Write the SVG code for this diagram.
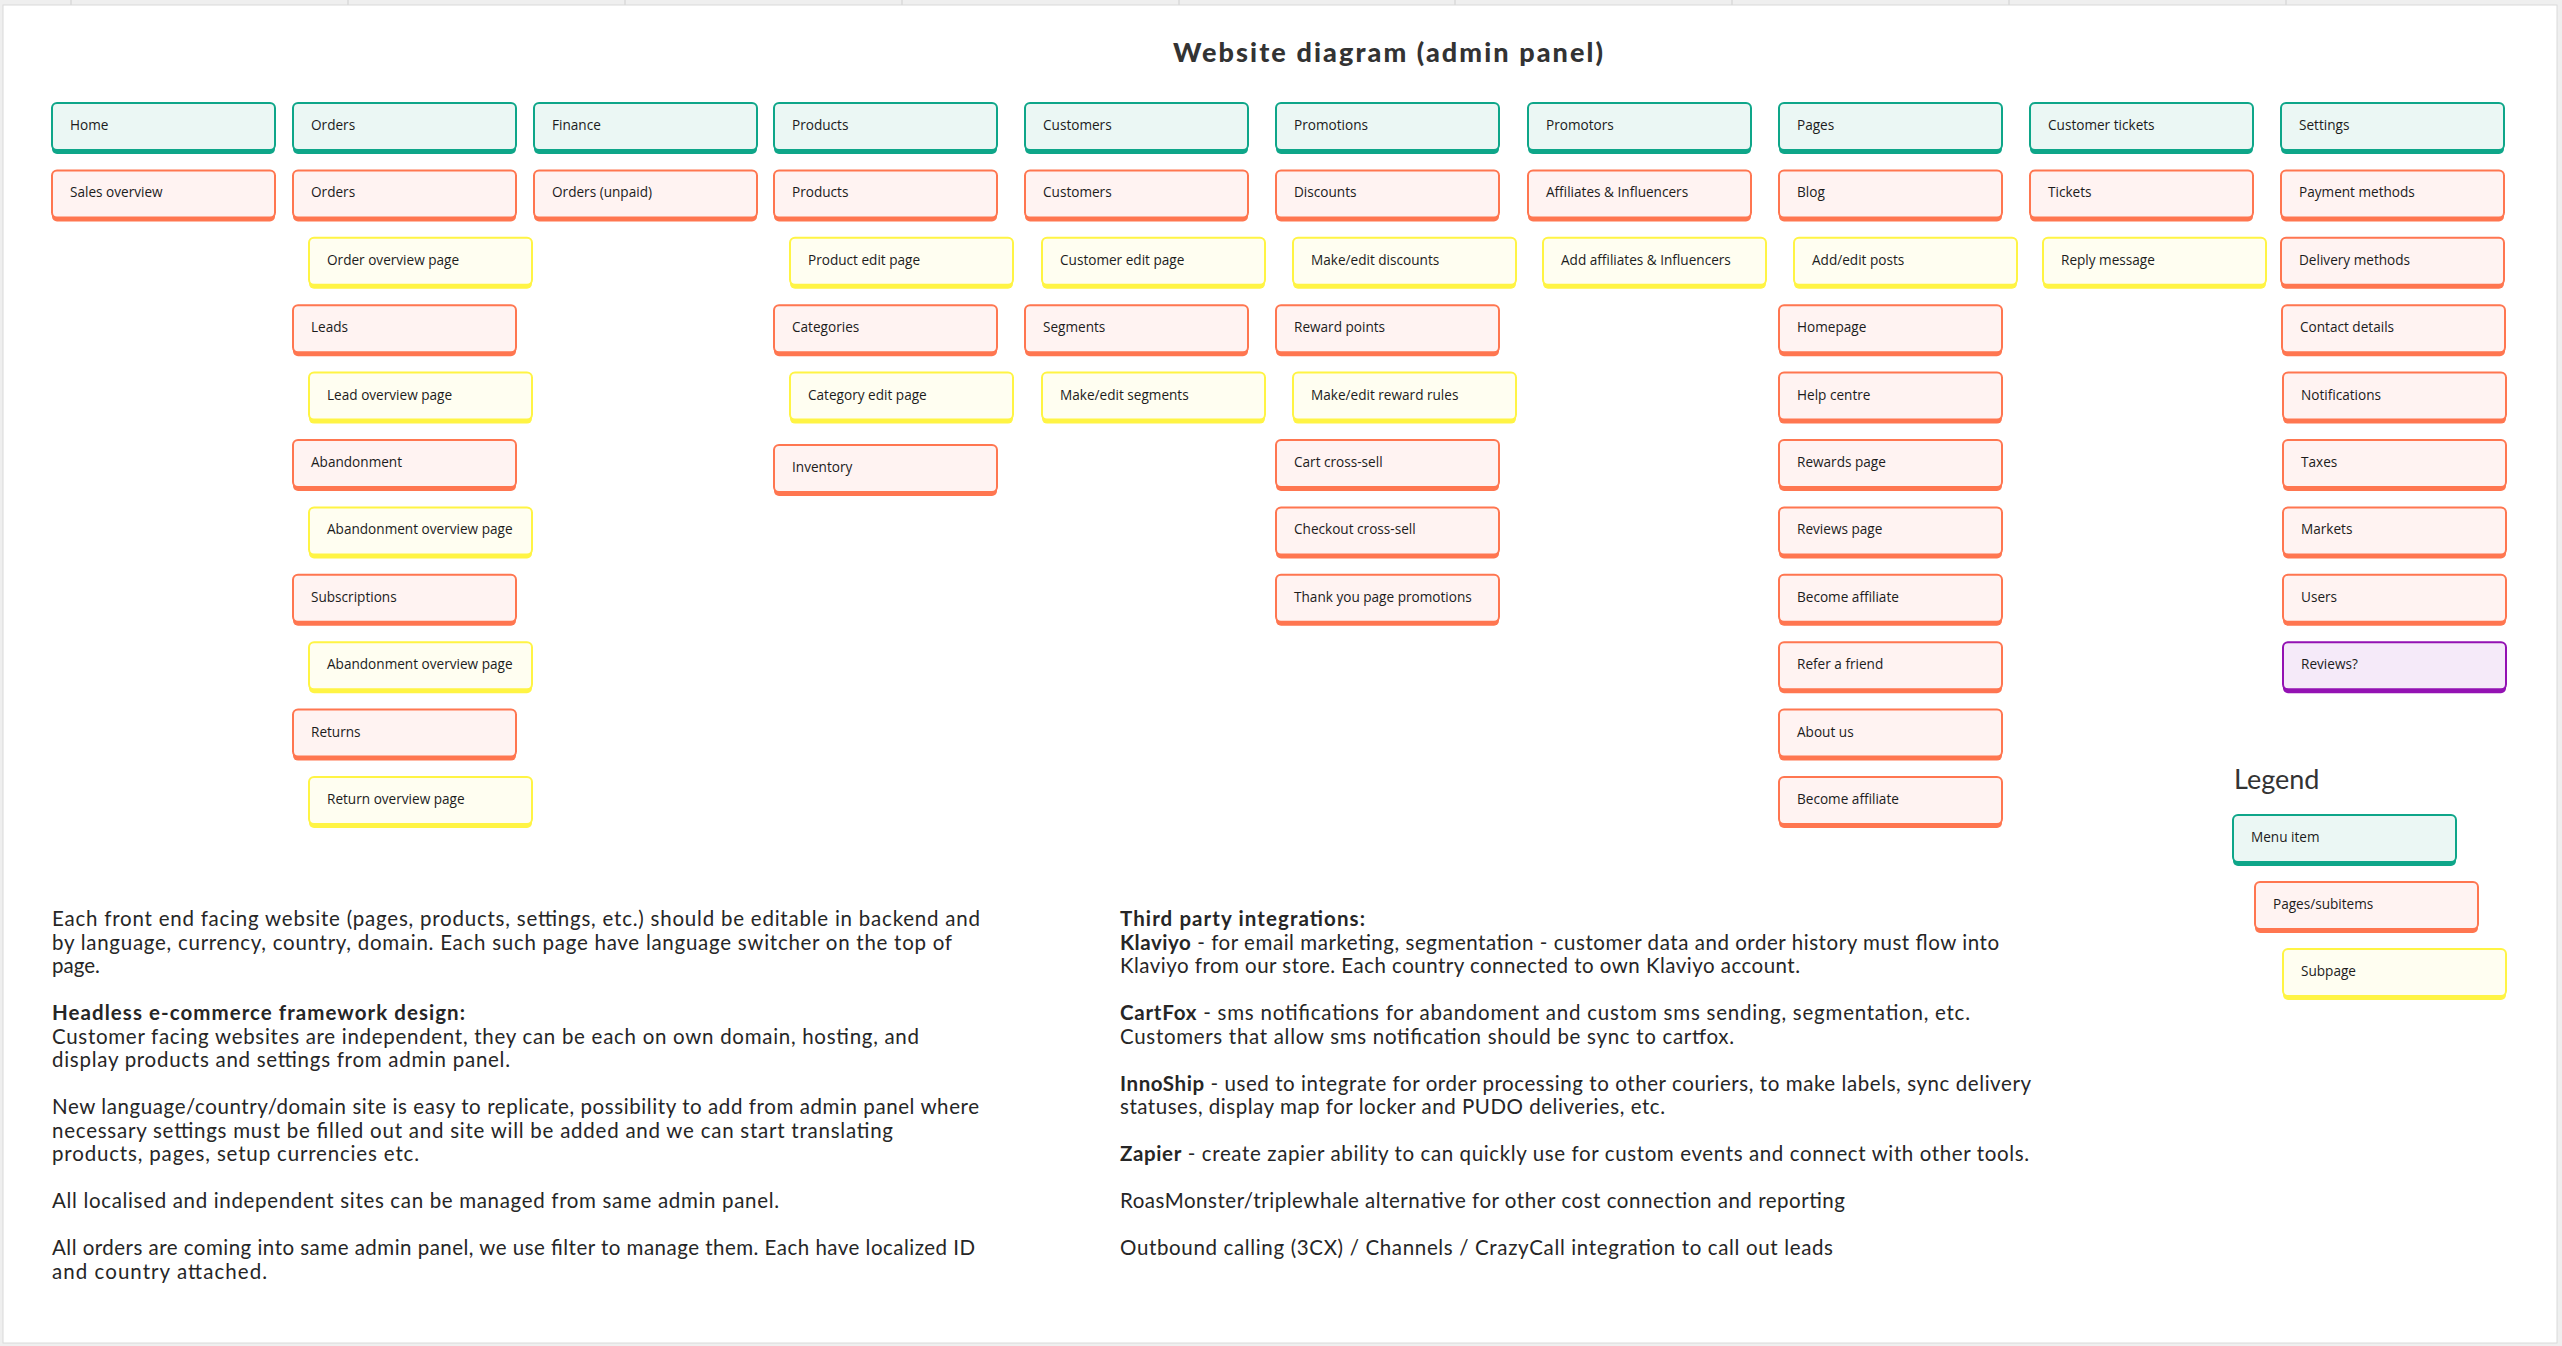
<svg xmlns="http://www.w3.org/2000/svg" width="2562" height="1346" viewBox="0 0 2562 1346">
<style>
.bg{fill:#efefef}
.board{fill:#ffffff;stroke:#dadada;stroke-width:1}
.grid{stroke:#cfcfcf;stroke-width:1}
.t{--s:#0ea689;--f:#ebf7f4}
.c{--s:#ff7650;--f:#fff3f2}
.y{--s:#fff444;--f:#fffef1}
.p{--s:#9312b3;--f:#f5eaf9}
.lbl{font-family:"Open Sans","Noto Sans",sans-serif;font-size:13.6px;fill:#1c1c1c}
.para{font-family:Lato,"Open Sans",sans-serif;font-size:20.5px;fill:#262626}
.b{font-weight:700}
.title{font-family:Lato,"Open Sans",sans-serif;font-weight:900;font-size:27px;fill:#333333}
.legend{font-family:Lato,"Open Sans",sans-serif;font-size:27px;fill:#333333}
</style>
<defs>
<g id="box"><rect x="0" y="4" width="223" height="47" rx="5" style="fill:var(--s)"/><rect x="0" y="0" width="223" height="47" rx="5" style="fill:var(--f);stroke:var(--s);stroke-width:2"/></g>
</defs>
<rect class="bg" x="0" y="0" width="2562" height="1346"/>
<g id="frame-grid">
<line class="grid" x1="71" y1="0" x2="71" y2="5"/><line class="grid" x1="348" y1="0" x2="348" y2="5"/><line class="grid" x1="625" y1="0" x2="625" y2="5"/><line class="grid" x1="902" y1="0" x2="902" y2="5"/><line class="grid" x1="1179" y1="0" x2="1179" y2="5"/><line class="grid" x1="1455" y1="0" x2="1455" y2="5"/><line class="grid" x1="1732" y1="0" x2="1732" y2="5"/><line class="grid" x1="2009" y1="0" x2="2009" y2="5"/><line class="grid" x1="2286" y1="0" x2="2286" y2="5"/>
</g>
<rect class="board" x="3" y="5" width="2554" height="1338"/>

<text class="title" x="1173" y="62" textLength="430" lengthAdjust="spacing">Website diagram (admin panel)</text>

<g id="connectors"></g>

<g id="col-home">
<g id="n-home" class="node t" transform="translate(52,103)"><use href="#box"/><text class="lbl" x="18" y="27">Home</text></g>
<g id="n-sales-overview" class="node c" transform="translate(52,170.4)"><use href="#box"/><text class="lbl" x="18" y="27">Sales overview</text></g>
</g>

<g id="col-orders">
<g id="n-orders-menu" class="node t" transform="translate(293,103)"><use href="#box"/><text class="lbl" x="18" y="27">Orders</text></g>
<g id="n-orders" class="node c" transform="translate(293,170.4)"><use href="#box"/><text class="lbl" x="18" y="27">Orders</text></g>
<g id="n-order-overview" class="node y" transform="translate(309,237.8)"><use href="#box"/><text class="lbl" x="18" y="27">Order overview page</text></g>
<g id="n-leads" class="node c" transform="translate(293,305.2)"><use href="#box"/><text class="lbl" x="18" y="27">Leads</text></g>
<g id="n-lead-overview" class="node y" transform="translate(309,372.6)"><use href="#box"/><text class="lbl" x="18" y="27">Lead overview page</text></g>
<g id="n-abandonment" class="node c" transform="translate(293,440)"><use href="#box"/><text class="lbl" x="18" y="27">Abandonment</text></g>
<g id="n-abandonment-overview" class="node y" transform="translate(309,507.4)"><use href="#box"/><text class="lbl" x="18" y="27">Abandonment overview page</text></g>
<g id="n-subscriptions" class="node c" transform="translate(293,574.8)"><use href="#box"/><text class="lbl" x="18" y="27">Subscriptions</text></g>
<g id="n-abandonment-overview-2" class="node y" transform="translate(309,642.2)"><use href="#box"/><text class="lbl" x="18" y="27">Abandonment overview page</text></g>
<g id="n-returns" class="node c" transform="translate(293,709.6)"><use href="#box"/><text class="lbl" x="18" y="27">Returns</text></g>
<g id="n-return-overview" class="node y" transform="translate(309,777)"><use href="#box"/><text class="lbl" x="18" y="27">Return overview page</text></g>
</g>

<g id="col-finance">
<g id="n-finance" class="node t" transform="translate(534,103)"><use href="#box"/><text class="lbl" x="18" y="27">Finance</text></g>
<g id="n-orders-unpaid" class="node c" transform="translate(534,170.4)"><use href="#box"/><text class="lbl" x="18" y="27">Orders (unpaid)</text></g>
</g>

<g id="col-products">
<g id="n-products-menu" class="node t" transform="translate(774,103)"><use href="#box"/><text class="lbl" x="18" y="27">Products</text></g>
<g id="n-products" class="node c" transform="translate(774,170.4)"><use href="#box"/><text class="lbl" x="18" y="27">Products</text></g>
<g id="n-product-edit" class="node y" transform="translate(790,237.8)"><use href="#box"/><text class="lbl" x="18" y="27">Product edit page</text></g>
<g id="n-categories" class="node c" transform="translate(774,305.2)"><use href="#box"/><text class="lbl" x="18" y="27">Categories</text></g>
<g id="n-category-edit" class="node y" transform="translate(790,372.6)"><use href="#box"/><text class="lbl" x="18" y="27">Category edit page</text></g>
<g id="n-inventory" class="node c" transform="translate(774,445)"><use href="#box"/><text class="lbl" x="18" y="27">Inventory</text></g>
</g>

<g id="col-customers">
<g id="n-customers-menu" class="node t" transform="translate(1025,103)"><use href="#box"/><text class="lbl" x="18" y="27">Customers</text></g>
<g id="n-customers" class="node c" transform="translate(1025,170.4)"><use href="#box"/><text class="lbl" x="18" y="27">Customers</text></g>
<g id="n-customer-edit" class="node y" transform="translate(1042,237.8)"><use href="#box"/><text class="lbl" x="18" y="27">Customer edit page</text></g>
<g id="n-segments" class="node c" transform="translate(1025,305.2)"><use href="#box"/><text class="lbl" x="18" y="27">Segments</text></g>
<g id="n-make-edit-segments" class="node y" transform="translate(1042,372.6)"><use href="#box"/><text class="lbl" x="18" y="27">Make/edit segments</text></g>
</g>

<g id="col-promotions">
<g id="n-promotions" class="node t" transform="translate(1276,103)"><use href="#box"/><text class="lbl" x="18" y="27">Promotions</text></g>
<g id="n-discounts" class="node c" transform="translate(1276,170.4)"><use href="#box"/><text class="lbl" x="18" y="27">Discounts</text></g>
<g id="n-make-edit-discounts" class="node y" transform="translate(1293,237.8)"><use href="#box"/><text class="lbl" x="18" y="27">Make/edit discounts</text></g>
<g id="n-reward-points" class="node c" transform="translate(1276,305.2)"><use href="#box"/><text class="lbl" x="18" y="27">Reward points</text></g>
<g id="n-make-edit-reward" class="node y" transform="translate(1293,372.6)"><use href="#box"/><text class="lbl" x="18" y="27">Make/edit reward rules</text></g>
<g id="n-cart-cross-sell" class="node c" transform="translate(1276,440)"><use href="#box"/><text class="lbl" x="18" y="27">Cart cross-sell</text></g>
<g id="n-checkout-cross-sell" class="node c" transform="translate(1276,507.4)"><use href="#box"/><text class="lbl" x="18" y="27">Checkout cross-sell</text></g>
<g id="n-thank-you" class="node c" transform="translate(1276,574.8)"><use href="#box"/><text class="lbl" x="18" y="27">Thank you page promotions</text></g>
</g>

<g id="col-promotors">
<g id="n-promotors" class="node t" transform="translate(1528,103)"><use href="#box"/><text class="lbl" x="18" y="27">Promotors</text></g>
<g id="n-affiliates" class="node c" transform="translate(1528,170.4)"><use href="#box"/><text class="lbl" x="18" y="27">Affiliates &amp; Influencers</text></g>
<g id="n-add-affiliates" class="node y" transform="translate(1543,237.8)"><use href="#box"/><text class="lbl" x="18" y="27">Add affiliates &amp; Influencers</text></g>
</g>

<g id="col-pages">
<g id="n-pages" class="node t" transform="translate(1779,103)"><use href="#box"/><text class="lbl" x="18" y="27">Pages</text></g>
<g id="n-blog" class="node c" transform="translate(1779,170.4)"><use href="#box"/><text class="lbl" x="18" y="27">Blog</text></g>
<g id="n-add-edit-posts" class="node y" transform="translate(1794,237.8)"><use href="#box"/><text class="lbl" x="18" y="27">Add/edit posts</text></g>
<g id="n-homepage" class="node c" transform="translate(1779,305.2)"><use href="#box"/><text class="lbl" x="18" y="27">Homepage</text></g>
<g id="n-help-centre" class="node c" transform="translate(1779,372.6)"><use href="#box"/><text class="lbl" x="18" y="27">Help centre</text></g>
<g id="n-rewards-page" class="node c" transform="translate(1779,440)"><use href="#box"/><text class="lbl" x="18" y="27">Rewards page</text></g>
<g id="n-reviews-page" class="node c" transform="translate(1779,507.4)"><use href="#box"/><text class="lbl" x="18" y="27">Reviews page</text></g>
<g id="n-become-affiliate" class="node c" transform="translate(1779,574.8)"><use href="#box"/><text class="lbl" x="18" y="27">Become affiliate</text></g>
<g id="n-refer-friend" class="node c" transform="translate(1779,642.2)"><use href="#box"/><text class="lbl" x="18" y="27">Refer a friend</text></g>
<g id="n-about-us" class="node c" transform="translate(1779,709.6)"><use href="#box"/><text class="lbl" x="18" y="27">About us</text></g>
<g id="n-become-affiliate-2" class="node c" transform="translate(1779,777)"><use href="#box"/><text class="lbl" x="18" y="27">Become affiliate</text></g>
</g>

<g id="col-tickets">
<g id="n-customer-tickets" class="node t" transform="translate(2030,103)"><use href="#box"/><text class="lbl" x="18" y="27">Customer tickets</text></g>
<g id="n-tickets" class="node c" transform="translate(2030,170.4)"><use href="#box"/><text class="lbl" x="18" y="27">Tickets</text></g>
<g id="n-reply-message" class="node y" transform="translate(2043,237.8)"><use href="#box"/><text class="lbl" x="18" y="27">Reply message</text></g>
</g>

<g id="col-settings">
<g id="n-settings" class="node t" transform="translate(2281,103)"><use href="#box"/><text class="lbl" x="18" y="27">Settings</text></g>
<g id="n-payment-methods" class="node c" transform="translate(2281,170.4)"><use href="#box"/><text class="lbl" x="18" y="27">Payment methods</text></g>
<g id="n-delivery-methods" class="node c" transform="translate(2281,237.8)"><use href="#box"/><text class="lbl" x="18" y="27">Delivery methods</text></g>
<g id="n-contact-details" class="node c" transform="translate(2282,305.2)"><use href="#box"/><text class="lbl" x="18" y="27">Contact details</text></g>
<g id="n-notifications" class="node c" transform="translate(2283,372.6)"><use href="#box"/><text class="lbl" x="18" y="27">Notifications</text></g>
<g id="n-taxes" class="node c" transform="translate(2283,440)"><use href="#box"/><text class="lbl" x="18" y="27">Taxes</text></g>
<g id="n-markets" class="node c" transform="translate(2283,507.4)"><use href="#box"/><text class="lbl" x="18" y="27">Markets</text></g>
<g id="n-users" class="node c" transform="translate(2283,574.8)"><use href="#box"/><text class="lbl" x="18" y="27">Users</text></g>
<g id="n-reviews" class="node p" transform="translate(2283,642.2)"><use href="#box"/><text class="lbl" x="18" y="27">Reviews?</text></g>
</g>

<g id="legend">
<text class="legend" x="2234" y="789">Legend</text>
<g id="lg-menu-item" class="node t" transform="translate(2233,815)"><use href="#box"/><text class="lbl" x="18" y="27">Menu item</text></g>
<g id="lg-pages-subitems" class="node c" transform="translate(2255,882)"><use href="#box"/><text class="lbl" x="18" y="27">Pages/subitems</text></g>
<g id="lg-subpage" class="node y" transform="translate(2283,949)"><use href="#box"/><text class="lbl" x="18" y="27">Subpage</text></g>
</g>

<g id="notes-left" class="para">
<text x="52" y="926" textLength="928" lengthAdjust="spacing">Each front end facing website (pages, products, settings, etc.) should be editable in backend and</text>
<text x="52" y="949.5" textLength="900" lengthAdjust="spacing">by language, currency, country, domain. Each such page have language switcher on the top of</text>
<text x="52" y="973">page.</text>
<text class="b" x="52" y="1020" textLength="413" lengthAdjust="spacing">Headless e-commerce framework design:</text>
<text x="52" y="1043.5" textLength="867" lengthAdjust="spacing">Customer facing websites are independent, they can be each on own domain, hosting, and</text>
<text x="52" y="1067" textLength="458" lengthAdjust="spacing">display products and settings from admin panel.</text>
<text x="52" y="1114" textLength="927" lengthAdjust="spacing">New language/country/domain site is easy to replicate, possibility to add from admin panel where</text>
<text x="52" y="1137.5" textLength="841" lengthAdjust="spacing">necessary settings must be filled out and site will be added and we can start translating</text>
<text x="52" y="1161" textLength="367" lengthAdjust="spacing">products, pages, setup currencies etc.</text>
<text x="52" y="1208" textLength="727" lengthAdjust="spacing">All localised and independent sites can be managed from same admin panel.</text>
<text x="52" y="1255" textLength="923" lengthAdjust="spacing">All orders are coming into same admin panel, we use filter to manage them. Each have localized ID</text>
<text x="52" y="1278.5" textLength="215" lengthAdjust="spacing">and country attached.</text>
</g>

<g id="notes-right" class="para">
<text class="b" x="1120" y="926" textLength="245" lengthAdjust="spacing">Third party integrations:</text>
<text x="1120" y="949.5" textLength="879" lengthAdjust="spacing"><tspan class="b">Klaviyo</tspan> - for email marketing, segmentation - customer data and order history must flow into</text>
<text x="1120" y="973" textLength="680" lengthAdjust="spacing">Klaviyo from our store. Each country connected to own Klaviyo account.</text>
<text x="1120" y="1020" textLength="850" lengthAdjust="spacing"><tspan class="b">CartFox</tspan> - sms notifications for abandoment and custom sms sending, segmentation, etc.</text>
<text x="1120" y="1043.5" textLength="614" lengthAdjust="spacing">Customers that allow sms notification should be sync to cartfox.</text>
<text x="1120" y="1090.5" textLength="911" lengthAdjust="spacing"><tspan class="b">InnoShip</tspan> - used to integrate for order processing to other couriers, to make labels, sync delivery</text>
<text x="1120" y="1114" textLength="545" lengthAdjust="spacing">statuses, display map for locker and PUDO deliveries, etc.</text>
<text x="1120" y="1161" textLength="909" lengthAdjust="spacing"><tspan class="b">Zapier</tspan> - create zapier ability to can quickly use for custom events and connect with other tools.</text>
<text x="1120" y="1208" textLength="725" lengthAdjust="spacing">RoasMonster/triplewhale alternative for other cost connection and reporting</text>
<text x="1120" y="1255" textLength="713" lengthAdjust="spacing">Outbound calling (3CX) / Channels / CrazyCall integration to call out leads</text>
</g>
</svg>
